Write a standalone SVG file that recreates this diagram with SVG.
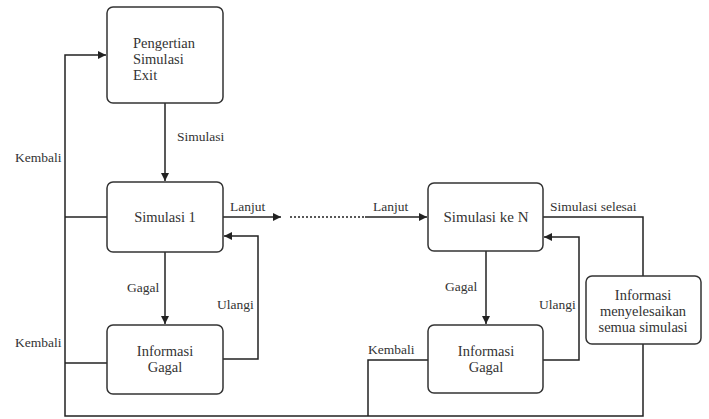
<svg xmlns="http://www.w3.org/2000/svg" width="709" height="419" viewBox="0 0 709 419">
<defs>
<marker id="ah" viewBox="0 0 10 10" refX="10" refY="5" markerWidth="8" markerHeight="8" markerUnits="userSpaceOnUse" orient="auto">
<path d="M0,0 L10,5 L0,10 z" fill="#222"/>
</marker>
<style>
.box{fill:#fff;stroke:#333;stroke-width:1.5}
.ln{fill:none;stroke:#222;stroke-width:1.5}
.t{font-family:'Liberation Serif','Times New Roman',serif;font-size:13.5px;fill:#333}
.n{font-size:14.5px}
.tc{text-anchor:middle}
</style>
</defs>
<rect width="709" height="419" fill="#fff"/>
<g id="connectors">
<path class="ln" d="M165,103 V181" marker-end="url(#ah)"/>
<path class="ln" d="M165,252 V324" marker-end="url(#ah)"/>
<path class="ln" d="M223,359 H258 V236 H224" marker-end="url(#ah)"/>
<path class="ln" d="M223,217 H281" marker-end="url(#ah)"/>
<path class="ln" d="M290,217 H365" stroke-dasharray="2,2"/>
<path class="ln" d="M365,217 H427" marker-end="url(#ah)"/>
<path class="ln" d="M486,251 V324" marker-end="url(#ah)"/>
<path class="ln" d="M543,360 H579 V237 H544" marker-end="url(#ah)"/>
<path class="ln" d="M543,217 H643 V276"/>
<path class="ln" d="M643,344 V416 H65 V55 H106" marker-end="url(#ah)"/>
<path class="ln" d="M65,217 H107"/>
<path class="ln" d="M65,363 H107"/>
<path class="ln" d="M428,360 H368 V416"/>
<text class="t" x="177" y="141">Simulasi</text>
<text class="t" x="15" y="162">Kembali</text>
<text class="t" x="15" y="347">Kembali</text>
<text class="t" x="127" y="292">Gagal</text>
<text class="t" x="217" y="309">Ulangi</text>
<text class="t" x="230" y="211">Lanjut</text>
<text class="t" x="373" y="211">Lanjut</text>
<text class="t" x="445" y="291">Gagal</text>
<text class="t" x="539" y="309">Ulangi</text>
<text class="t" x="550" y="211">Simulasi selesai</text>
<text class="t" x="368" y="354">Kembali</text>
</g>
<g id="nodeA">
<rect class="box" x="107" y="7" width="116" height="96" rx="6"/>
<text class="t n" x="133" y="48">Pengertian</text>
<text class="t n" x="133" y="64">Simulasi</text>
<text class="t n" x="133" y="80">Exit</text>
</g>
<g id="nodeB">
<rect class="box" x="107" y="182" width="116" height="70" rx="6"/>
<text class="t n tc" x="165" y="222">Simulasi 1</text>
</g>
<g id="nodeC">
<rect class="box" x="107" y="325" width="116" height="69" rx="6"/>
<text class="t n tc" x="165" y="356">Informasi</text>
<text class="t n tc" x="165" y="372">Gagal</text>
</g>
<g id="nodeD">
<rect class="box" x="428" y="183" width="115" height="68" rx="6"/>
<text class="t n tc" x="486" y="222" style="font-size:15px">Simulasi ke N</text>
</g>
<g id="nodeE">
<rect class="box" x="428" y="325" width="115" height="68" rx="6"/>
<text class="t n tc" x="486" y="356">Informasi</text>
<text class="t n tc" x="486" y="372">Gagal</text>
</g>
<g id="nodeF">
<rect class="box" x="586" y="276" width="115" height="68" rx="6"/>
<text class="t n tc" x="643" y="300">Informasi</text>
<text class="t n tc" x="643" y="316">menyelesaikan</text>
<text class="t n tc" x="643" y="332">semua simulasi</text>
</g>
</svg>
